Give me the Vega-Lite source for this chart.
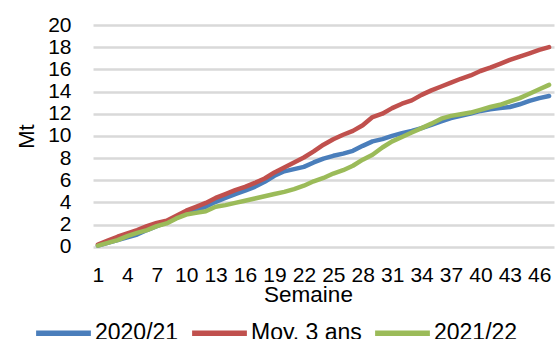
{
  "$schema": "https://vega.github.io/schema/vega-lite/v6.json",
  "autosize": "none",
  "width": 461,
  "height": 221.7,
  "padding": {"left": 93, "top": 25, "right": 1, "bottom": 92.3},
  "background": "white",
  "config": {
    "view": {"stroke": null},
    "font": "Liberation Sans",
    "axis": {"labelFont": "Liberation Sans", "titleFont": "Liberation Sans", "labelColor": "#000000", "titleColor": "#000000", "titleFontWeight": "normal"},
    "legend": {"labelFont": "Liberation Sans", "labelColor": "#000000"}
  },
  "data": {
    "values": [
      {"semaine": 1, "serie": "2020/21", "mt": 0.1},
      {"semaine": 2, "serie": "2020/21", "mt": 0.35},
      {"semaine": 3, "serie": "2020/21", "mt": 0.6},
      {"semaine": 4, "serie": "2020/21", "mt": 0.85},
      {"semaine": 5, "serie": "2020/21", "mt": 1.1},
      {"semaine": 6, "serie": "2020/21", "mt": 1.5},
      {"semaine": 7, "serie": "2020/21", "mt": 1.85},
      {"semaine": 8, "serie": "2020/21", "mt": 2.2},
      {"semaine": 9, "serie": "2020/21", "mt": 2.6},
      {"semaine": 10, "serie": "2020/21", "mt": 3.0},
      {"semaine": 11, "serie": "2020/21", "mt": 3.3},
      {"semaine": 12, "serie": "2020/21", "mt": 3.6},
      {"semaine": 13, "serie": "2020/21", "mt": 4.05},
      {"semaine": 14, "serie": "2020/21", "mt": 4.4},
      {"semaine": 15, "serie": "2020/21", "mt": 4.75},
      {"semaine": 16, "serie": "2020/21", "mt": 5.05},
      {"semaine": 17, "serie": "2020/21", "mt": 5.4},
      {"semaine": 18, "serie": "2020/21", "mt": 5.85},
      {"semaine": 19, "serie": "2020/21", "mt": 6.4},
      {"semaine": 20, "serie": "2020/21", "mt": 6.8},
      {"semaine": 21, "serie": "2020/21", "mt": 7.0},
      {"semaine": 22, "serie": "2020/21", "mt": 7.2},
      {"semaine": 23, "serie": "2020/21", "mt": 7.6},
      {"semaine": 24, "serie": "2020/21", "mt": 7.95},
      {"semaine": 25, "serie": "2020/21", "mt": 8.2},
      {"semaine": 26, "serie": "2020/21", "mt": 8.4},
      {"semaine": 27, "serie": "2020/21", "mt": 8.65},
      {"semaine": 28, "serie": "2020/21", "mt": 9.1},
      {"semaine": 29, "serie": "2020/21", "mt": 9.5},
      {"semaine": 30, "serie": "2020/21", "mt": 9.7},
      {"semaine": 31, "serie": "2020/21", "mt": 10.0},
      {"semaine": 32, "serie": "2020/21", "mt": 10.25},
      {"semaine": 33, "serie": "2020/21", "mt": 10.45},
      {"semaine": 34, "serie": "2020/21", "mt": 10.7},
      {"semaine": 35, "serie": "2020/21", "mt": 11.0},
      {"semaine": 36, "serie": "2020/21", "mt": 11.3},
      {"semaine": 37, "serie": "2020/21", "mt": 11.6},
      {"semaine": 38, "serie": "2020/21", "mt": 11.8},
      {"semaine": 39, "serie": "2020/21", "mt": 12.0},
      {"semaine": 40, "serie": "2020/21", "mt": 12.25},
      {"semaine": 41, "serie": "2020/21", "mt": 12.4},
      {"semaine": 42, "serie": "2020/21", "mt": 12.5},
      {"semaine": 43, "serie": "2020/21", "mt": 12.6},
      {"semaine": 44, "serie": "2020/21", "mt": 12.85},
      {"semaine": 45, "serie": "2020/21", "mt": 13.15},
      {"semaine": 46, "serie": "2020/21", "mt": 13.4},
      {"semaine": 47, "serie": "2020/21", "mt": 13.6},
      {"semaine": 1, "serie": "Moy. 3 ans", "mt": 0.2},
      {"semaine": 2, "serie": "Moy. 3 ans", "mt": 0.55},
      {"semaine": 3, "serie": "Moy. 3 ans", "mt": 0.9},
      {"semaine": 4, "serie": "Moy. 3 ans", "mt": 1.2},
      {"semaine": 5, "serie": "Moy. 3 ans", "mt": 1.5},
      {"semaine": 6, "serie": "Moy. 3 ans", "mt": 1.85},
      {"semaine": 7, "serie": "Moy. 3 ans", "mt": 2.15},
      {"semaine": 8, "serie": "Moy. 3 ans", "mt": 2.35},
      {"semaine": 9, "serie": "Moy. 3 ans", "mt": 2.8},
      {"semaine": 10, "serie": "Moy. 3 ans", "mt": 3.25},
      {"semaine": 11, "serie": "Moy. 3 ans", "mt": 3.6},
      {"semaine": 12, "serie": "Moy. 3 ans", "mt": 3.95},
      {"semaine": 13, "serie": "Moy. 3 ans", "mt": 4.4},
      {"semaine": 14, "serie": "Moy. 3 ans", "mt": 4.75},
      {"semaine": 15, "serie": "Moy. 3 ans", "mt": 5.1},
      {"semaine": 16, "serie": "Moy. 3 ans", "mt": 5.4},
      {"semaine": 17, "serie": "Moy. 3 ans", "mt": 5.75},
      {"semaine": 18, "serie": "Moy. 3 ans", "mt": 6.15},
      {"semaine": 19, "serie": "Moy. 3 ans", "mt": 6.7},
      {"semaine": 20, "serie": "Moy. 3 ans", "mt": 7.15},
      {"semaine": 21, "serie": "Moy. 3 ans", "mt": 7.6},
      {"semaine": 22, "serie": "Moy. 3 ans", "mt": 8.05},
      {"semaine": 23, "serie": "Moy. 3 ans", "mt": 8.6},
      {"semaine": 24, "serie": "Moy. 3 ans", "mt": 9.2},
      {"semaine": 25, "serie": "Moy. 3 ans", "mt": 9.7},
      {"semaine": 26, "serie": "Moy. 3 ans", "mt": 10.1},
      {"semaine": 27, "serie": "Moy. 3 ans", "mt": 10.45},
      {"semaine": 28, "serie": "Moy. 3 ans", "mt": 10.95},
      {"semaine": 29, "serie": "Moy. 3 ans", "mt": 11.7},
      {"semaine": 30, "serie": "Moy. 3 ans", "mt": 12.0},
      {"semaine": 31, "serie": "Moy. 3 ans", "mt": 12.5},
      {"semaine": 32, "serie": "Moy. 3 ans", "mt": 12.9},
      {"semaine": 33, "serie": "Moy. 3 ans", "mt": 13.2},
      {"semaine": 34, "serie": "Moy. 3 ans", "mt": 13.7},
      {"semaine": 35, "serie": "Moy. 3 ans", "mt": 14.1},
      {"semaine": 36, "serie": "Moy. 3 ans", "mt": 14.45},
      {"semaine": 37, "serie": "Moy. 3 ans", "mt": 14.8},
      {"semaine": 38, "serie": "Moy. 3 ans", "mt": 15.15},
      {"semaine": 39, "serie": "Moy. 3 ans", "mt": 15.45},
      {"semaine": 40, "serie": "Moy. 3 ans", "mt": 15.85},
      {"semaine": 41, "serie": "Moy. 3 ans", "mt": 16.15},
      {"semaine": 42, "serie": "Moy. 3 ans", "mt": 16.5},
      {"semaine": 43, "serie": "Moy. 3 ans", "mt": 16.85},
      {"semaine": 44, "serie": "Moy. 3 ans", "mt": 17.15},
      {"semaine": 45, "serie": "Moy. 3 ans", "mt": 17.45},
      {"semaine": 46, "serie": "Moy. 3 ans", "mt": 17.75},
      {"semaine": 47, "serie": "Moy. 3 ans", "mt": 18.0},
      {"semaine": 1, "serie": "2021/22", "mt": 0.1},
      {"semaine": 2, "serie": "2021/22", "mt": 0.35},
      {"semaine": 3, "serie": "2021/22", "mt": 0.6},
      {"semaine": 4, "serie": "2021/22", "mt": 0.95},
      {"semaine": 5, "serie": "2021/22", "mt": 1.25},
      {"semaine": 6, "serie": "2021/22", "mt": 1.5},
      {"semaine": 7, "serie": "2021/22", "mt": 1.85},
      {"semaine": 8, "serie": "2021/22", "mt": 2.1},
      {"semaine": 9, "serie": "2021/22", "mt": 2.55},
      {"semaine": 10, "serie": "2021/22", "mt": 2.9},
      {"semaine": 11, "serie": "2021/22", "mt": 3.05},
      {"semaine": 12, "serie": "2021/22", "mt": 3.2},
      {"semaine": 13, "serie": "2021/22", "mt": 3.6},
      {"semaine": 14, "serie": "2021/22", "mt": 3.75},
      {"semaine": 15, "serie": "2021/22", "mt": 3.95},
      {"semaine": 16, "serie": "2021/22", "mt": 4.15},
      {"semaine": 17, "serie": "2021/22", "mt": 4.35},
      {"semaine": 18, "serie": "2021/22", "mt": 4.55},
      {"semaine": 19, "serie": "2021/22", "mt": 4.75},
      {"semaine": 20, "serie": "2021/22", "mt": 4.95},
      {"semaine": 21, "serie": "2021/22", "mt": 5.2},
      {"semaine": 22, "serie": "2021/22", "mt": 5.5},
      {"semaine": 23, "serie": "2021/22", "mt": 5.9},
      {"semaine": 24, "serie": "2021/22", "mt": 6.2},
      {"semaine": 25, "serie": "2021/22", "mt": 6.6},
      {"semaine": 26, "serie": "2021/22", "mt": 6.9},
      {"semaine": 27, "serie": "2021/22", "mt": 7.3},
      {"semaine": 28, "serie": "2021/22", "mt": 7.85},
      {"semaine": 29, "serie": "2021/22", "mt": 8.3},
      {"semaine": 30, "serie": "2021/22", "mt": 8.95},
      {"semaine": 31, "serie": "2021/22", "mt": 9.5},
      {"semaine": 32, "serie": "2021/22", "mt": 9.9},
      {"semaine": 33, "serie": "2021/22", "mt": 10.3},
      {"semaine": 34, "serie": "2021/22", "mt": 10.7},
      {"semaine": 35, "serie": "2021/22", "mt": 11.1},
      {"semaine": 36, "serie": "2021/22", "mt": 11.55},
      {"semaine": 37, "serie": "2021/22", "mt": 11.8},
      {"semaine": 38, "serie": "2021/22", "mt": 11.95},
      {"semaine": 39, "serie": "2021/22", "mt": 12.1},
      {"semaine": 40, "serie": "2021/22", "mt": 12.35},
      {"semaine": 41, "serie": "2021/22", "mt": 12.6},
      {"semaine": 42, "serie": "2021/22", "mt": 12.8},
      {"semaine": 43, "serie": "2021/22", "mt": 13.1},
      {"semaine": 44, "serie": "2021/22", "mt": 13.4},
      {"semaine": 45, "serie": "2021/22", "mt": 13.8},
      {"semaine": 46, "serie": "2021/22", "mt": 14.2},
      {"semaine": 47, "serie": "2021/22", "mt": 14.6}
    ]
  },
  "mark": {"type": "line", "strokeWidth": 4.5, "strokeCap": "round", "strokeJoin": "round"},
  "encoding": {
    "x": {
      "field": "semaine",
      "type": "quantitative",
      "scale": {"domain": [0.5, 47.5], "nice": false, "zero": false},
      "axis": {
        "values": [1, 4, 7, 10, 13, 16, 19, 22, 25, 28, 31, 34, 37, 40, 43, 46],
        "grid": false,
        "ticks": false,
        "domain": false,
        "labelFontSize": 21,
        "labelPadding": 17.5,
        "labelOverlap": false,
        "labelFlush": false,
        "title": "Semaine",
        "titleFontSize": 22.5,
        "titleX": 215,
        "titleY": 55,
        "titleAnchor": null,
        "titleAlign": "center",
        "titleBaseline": "alphabetic"
      }
    },
    "y": {
      "field": "mt",
      "type": "quantitative",
      "scale": {"domain": [0, 20], "nice": false},
      "axis": {
        "values": [0, 2, 4, 6, 8, 10, 12, 14, 16, 18, 20],
        "grid": true,
        "gridColor": "#d9d9d9",
        "gridWidth": 2.5,
        "ticks": false,
        "domain": false,
        "labelFontSize": 21,
        "labelPadding": 22,
        "labelOverlap": false,
        "labelFlush": false,
        "title": "Mt",
        "titleFontSize": 22,
        "titleX": -60,
        "titleY": 111,
        "titleAngle": -90,
        "titleAlign": "center",
        "titleBaseline": "alphabetic"
      }
    },
    "color": {
      "field": "serie",
      "type": "nominal",
      "sort": ["2020/21", "Moy. 3 ans", "2021/22"],
      "scale": {"domain": ["2020/21", "Moy. 3 ans", "2021/22"], "range": ["#4a7ebb", "#c0504d", "#9bbb59"]},
      "legend": {
        "title": null,
        "orient": "none",
        "direction": "horizontal",
        "legendX": -60,
        "legendY": 277.5,
        "padding": 0,
        "symbolType": "stroke",
        "symbolSize": 3000,
        "symbolStrokeWidth": 5.5,
        "labelFontSize": 23,
        "labelOffset": 1,
        "columnPadding": 2,
        "labelLimit": 300
      }
    }
  }
}
